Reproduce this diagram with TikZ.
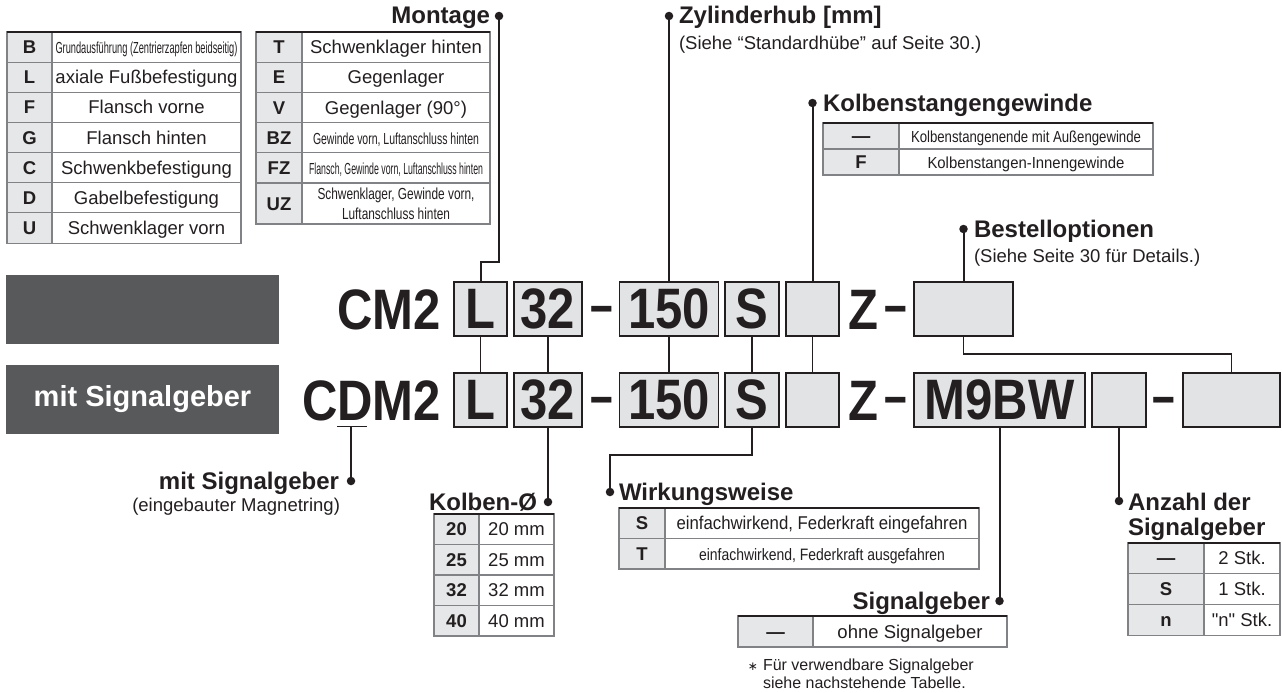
\documentclass[tikz,border=0pt]{standalone}
\usepackage{fontspec}
\usepackage{graphicx}
\setmainfont{Liberation Sans}
\newfontfamily\codefont{Liberation Sans}[FakeStretch=0.86]
\newfontfamily\rawfont{Liberation Sans}[Ligatures=TeXOff]
\newfontfamily\djv{DejaVu Sans}
\definecolor{ink}{HTML}{231F20}
\definecolor{boxfill}{HTML}{E2E3E4}
\definecolor{cellfill}{HTML}{E6E7E8}
\definecolor{tline}{HTML}{808285}
\definecolor{darkbox}{HTML}{58595B}
\newcommand\sq[2]{\resizebox{#1pt}{\height}{#2}}
% name, x, y, key width, value width, height, style, key, value
\newcommand\trow[9]{%
  \node[#7k, minimum width=#4pt, minimum height=#6pt] (#1k) at (#2,#3) {#8};
  \node[#7v, minimum width=#5pt, minimum height=#6pt] (#1v) at (#1k.north east) {#9};
}
\tikzset{
  every node/.style={inner sep=0pt, outer sep=0pt, text=ink},
  codebox/.style={draw=ink, line width=1.8pt, fill=boxfill, minimum height=54pt,
    font=\codefont\bfseries\fontsize{57}{57}\selectfont},
  codetext/.style={font=\codefont\bfseries\fontsize{57}{57}\selectfont, anchor=base},
  cellbase/.style={draw=tline, line width=1.1pt, anchor=north west, align=center},
  Av/.style={cellbase, font=\fontsize{18.5}{20}\selectfont, text height=13.2pt, text depth=0pt},
  Ak/.style={cellbase, fill=cellfill, font=\bfseries\fontsize{18.5}{20}\selectfont, text height=13.2pt, text depth=0pt},
  title/.style={font=\bfseries\fontsize{24}{26}\selectfont},
  sub/.style={font=\fontsize{18.5}{20}\selectfont},
  lead/.style={draw=ink, line width=2pt},
  link/.style={draw=ink, line width=1.7pt},
  dot/.style={fill=ink, circle, minimum size=8.5pt},
  topline/.style={draw=ink, line width=2.4pt},
  darkpanel/.style={fill=darkbox, minimum width=273pt, minimum height=69pt, anchor=north west},
}
\newcommand\cdash{\scalebox{0.83}[1]{–}}
\begin{document}
\begin{tikzpicture}[x=1pt,y=-1pt]
\useasboundingbox (0,0) rectangle (1282,693);
\fill[white] (0,0) rectangle (1282,693);

% ---------- Table 1 (Montage part 1)
\trow{ta}{7}{32}{45}{189}{30.15}{A}{B}{{\fontsize{16}{18}\selectfont\sq{182}{Grundausführung (Zentrierzapfen beidseitig)}}}
\trow{tb}{7}{62.15}{45}{189}{30.15}{A}{L}{axiale Fußbefestigung}
\trow{tc}{7}{92.3}{45}{189}{30.15}{A}{F}{Flansch vorne}
\trow{td}{7}{122.45}{45}{189}{30.15}{A}{G}{Flansch hinten}
\trow{te}{7}{152.6}{45}{189}{30.15}{A}{C}{Schwenkbefestigung}
\trow{tf}{7}{182.75}{45}{189}{30.15}{A}{D}{Gabelbefestigung}
\trow{tg}{7}{212.9}{45}{189}{30.15}{A}{U}{Schwenklager vorn}
\draw[topline] (tak.north west) -- (tav.north east);

% ---------- Table 2 (Montage part 2)
\trow{ua}{256}{32}{46}{188}{30.2}{A}{T}{Schwenklager hinten}
\trow{ub}{256}{62.2}{46}{188}{30.2}{A}{E}{Gegenlager}
\trow{uc}{256}{92.4}{46}{188}{30.2}{A}{V}{Gegenlager (90°)}
\trow{ud}{256}{122.6}{46}{188}{30.2}{A}{BZ}{{\fontsize{16}{18}\selectfont\sq{166}{Gewinde vorn, Luftanschluss hinten}}}
\trow{ue}{256}{152.8}{46}{188}{30.2}{A}{FZ}{{\fontsize{16}{18}\selectfont\sq{174}{Flansch, Gewinde vorn, Luftanschluss hinten}}}
\node[Ak, minimum width=46pt, minimum height=41pt] (ufk) at (256,183) {UZ};
\node[cellbase, minimum width=188pt, minimum height=41pt, font=\fontsize{16}{20}\selectfont]
  (ufv) at (ufk.north east) {\sq{157}{Schwenklager, Gewinde vorn,}\\\sq{108}{Luftanschluss hinten}};
\draw[topline] (uak.north west) -- (uav.north east);

% ---------- Titles and dots
\node[title, anchor=base east] (montage) at (490,24) {Montage};
\node[dot] (dmont) at (499,16) {};
\node[title, anchor=base west] (zyl) at (679,24) {Zylinderhub [mm]};
\node[dot] (dzyl) at (669,16) {};
\node[sub, anchor=base west] (zylsub) at (679,49) {(Siehe “Standardhübe” auf Seite 30.)};
\node[title, anchor=base west] (kst) at (823,111) {Kolbenstangengewinde};
\node[dot] (dkst) at (812.5,103) {};
\node[title, anchor=base west] (best) at (974,237) {Bestelloptionen};
\node[dot] (dbest) at (963.5,229) {};
\node[sub, anchor=base west] (bestsub) at (974,262) {(Siehe Seite 30 für Details.)};

% ---------- Kolbenstangengewinde table
\trow{ka}{823}{123}{76}{254}{26}{A}{—}{{\fontsize{16}{18}\selectfont\sq{230}{Kolbenstangenende mit Außengewinde}}}
\trow{kb}{823}{149}{76}{254}{26}{A}{F}{{\fontsize{16}{18}\selectfont\sq{197}{Kolbenstangen-Innengewinde}}}
\draw[topline] (kak.north west) -- (kav.north east);

% ---------- Dark panels
\node[darkpanel] (gb1) at (6,275) {};
\node[darkpanel, text=white, font=\bfseries\fontsize{29}{30}\selectfont] (gb2) at (6,365) {mit Signalgeber};

% ---------- Code row 1
\node[codetext, anchor=base east] (cm2) at (441,329) {CM2};
\node[codebox, minimum width=53pt] (b1L) at (480.5,308.7) {L};
\node[codebox, minimum width=68pt] (b132) at (548,308.7) {32};
\node[codetext] (d11) at (602,324.5) {\cdash};
\node[codebox, minimum width=99pt] (b1150) at (669,308.7) {150};
\node[codebox, minimum width=54pt] (b1S) at (752,308.7) {S};
\node[codebox, minimum width=53pt] (b1E) at (812.5,308.7) {};
\node[codetext] (z1) at (863,329) {Z};
\node[codetext] (d12) at (896,324.5) {\cdash};
\node[codebox, minimum width=99pt] (b1O) at (963.5,308.7) {};

% ---------- Code row 2
\node[codetext, anchor=base east] (cdm2) at (441,420) {CDM2};
\node[codebox, minimum width=53pt] (b2L) at (480.5,399.7) {L};
\node[codebox, minimum width=68pt] (b232) at (548,399.7) {32};
\node[codetext] (d21) at (602,415.5) {\cdash};
\node[codebox, minimum width=99pt] (b2150) at (669,399.7) {150};
\node[codebox, minimum width=54pt] (b2S) at (752,399.7) {S};
\node[codebox, minimum width=53pt] (b2E) at (812.5,399.7) {};
\node[codetext] (z2) at (863,420) {Z};
\node[codetext] (d22) at (896,415.5) {\cdash};
\node[codebox, minimum width=171pt] (b2M) at (999.5,399.7) {M9BW};
\node[codebox, minimum width=54pt] (b2E2) at (1119,399.7) {};
\node[codetext] (d23) at (1163.5,415.5) {\cdash};
\node[codebox, minimum width=97pt] (b2last) at (1231.5,399.7) {};

% ---------- Lower labels
\node[title, anchor=base east] (msg) at (339,489) {mit Signalgeber};
\node[dot] (dmsg) at (351,481) {};
\node[sub, anchor=base east] (msgsub) at (340,511) {(eingebauter Magnetring)};

\node[title, anchor=base east] (kol) at (537,510) {Kolben-Ø};
\node[dot] (dkol) at (548,502) {};
\trow{pa}{434}{514}{45}{75}{30.5}{A}{20}{20 mm}
\trow{pb}{434}{544.5}{45}{75}{30.5}{A}{25}{25 mm}
\trow{pc}{434}{575}{45}{75}{30.5}{A}{32}{32 mm}
\trow{pd}{434}{605.5}{45}{75}{30.5}{A}{40}{40 mm}
\draw[topline] (pak.north west) -- (pav.north east);

\node[title, anchor=base west] (wirk) at (619,500) {Wirkungsweise};
\node[dot] (dwirk) at (610,492) {};
\trow{wa}{619}{508}{46}{314}{30.5}{A}{S}{\sq{291}{einfachwirkend, Federkraft eingefahren}}
\trow{wb}{619}{538.5}{46}{314}{30.5}{A}{T}{{\fontsize{16.5}{18}\selectfont\sq{246}{einfachwirkend, Federkraft ausgefahren}}}
\draw[topline] (wak.north west) -- (wav.north east);

\node[title, anchor=base east] (sig) at (990,609) {Signalgeber};
\node[dot] (dsig) at (999.5,601) {};
\trow{sa}{738}{616}{75}{194}{31}{A}{—}{ohne Signalgeber}
\draw[topline] (sak.north west) -- (sav.north east);
\node[anchor=base west, font=\fontsize{16}{18}\selectfont] (note1) at (763,670)
  {\llap{{\djv\fontsize{12}{12}\selectfont ∗}\hspace{5pt}}Für verwendbare Signalgeber};
\node[anchor=base west, font=\fontsize{16}{18}\selectfont] (note2) at (763,688) {siehe nachstehende Tabelle.};

\node[title, anchor=base west] (anz) at (1128,510) {Anzahl der};
\node[title, anchor=base west] (anz2) at (1128,535) {Signalgeber};
\node[dot] (danz) at (1119,501) {};
\trow{na}{1128}{543}{76}{76}{30.7}{A}{—}{2 Stk.}
\trow{nb}{1128}{573.7}{76}{76}{30.7}{A}{S}{1 Stk.}
\trow{nc}{1128}{604.4}{76}{76}{30.7}{A}{n}{{\rawfont\fontsize{18.5}{20}\selectfont "n" Stk.}}
\draw[topline] (nak.north west) -- (nav.north east);

% ---------- Connectors
\coordinate (mj1) at (499,262);
\coordinate (mj2) at (480.5,262);
\draw[lead] (dmont.center) -- (mj1) -- (mj2) -- (b1L.north);
\draw[lead] (dzyl.center) -- (b1150.north);
\draw[lead] (dkst.center) -- (b1E.north);
\draw[lead] (dbest.center) -- (b1O.north);

\draw[link] (b1L.south) -- (b2L.north);
\draw[link] (b132.south) -- (b232.north);
\draw[link] (b1150.south) -- (b2150.north);
\draw[link] (b1S.south) -- (b2S.north);
\draw[link] (b1E.south) -- (b2E.north);
\coordinate (oj1) at (963.5,354);
\coordinate (oj2) at (1231.5,354);
\draw[link] (b1O.south) -- (oj1) -- (oj2) -- (b2last.north);

\coordinate (du1) at (337,426.5);
\coordinate (du2) at (367,426.5);
\coordinate (duc) at (351,426.5);
\draw[link] (du1) -- (du2);
\draw[lead] (duc) -- (dmsg.center);
\draw[lead] (b232.south) -- (dkol.center);
\coordinate (wj1) at (752,455);
\coordinate (wj2) at (610,455);
\draw[lead] (b2S.south) -- (wj1) -- (wj2) -- (dwirk.center);
\draw[lead] (b2M.south) -- (dsig.center);
\draw[lead] (b2E2.south) -- (danz.center);
\end{tikzpicture}
\end{document}
